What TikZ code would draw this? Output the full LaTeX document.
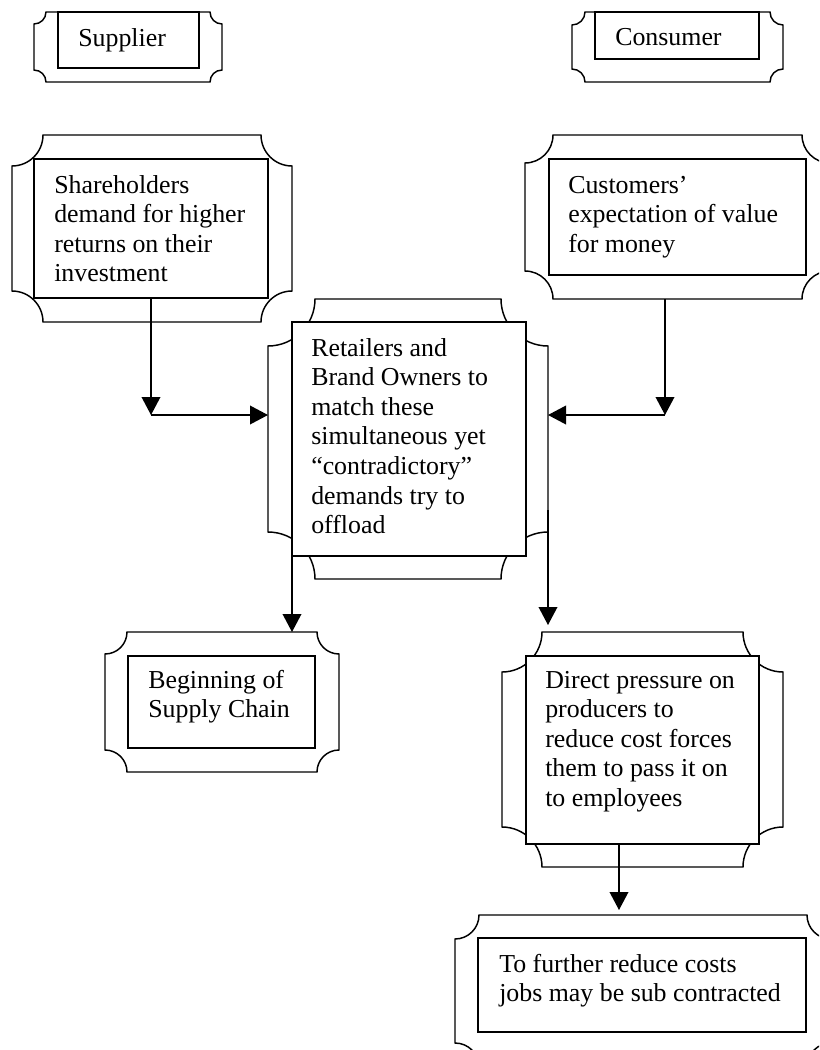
\documentclass[tikz,border=0pt]{standalone}
\usepackage{fontspec}
\setmainfont{Liberation Serif}
\usetikzlibrary{arrows.meta,fit,calc}
\tikzset{
  plq/.style={draw=black, fill=white, line width=1.1pt, line join=miter},
  inbox/.style={draw=black, fill=white, line width=1.1pt, inner sep=0pt, outer sep=0pt},
  txt/.style={font=\fontsize{19.4pt}{22.2pt}\selectfont, align=left, inner sep=0pt, anchor=base west},
  conn/.style={line width=1.1pt, -{Triangle[length=13.5pt,width=14pt]}},
}
% #1 name, #2 x1, #3 y1, #4 x2, #5 y2, #6 corner radius
\newcommand\plaque[6]{%
  \draw[plq] ({#2+#6},#3) -- ({#4-#6},#3)
    arc[start angle=180,end angle=90,radius=#6] -- (#4,{#5-#6})
    arc[start angle=270,end angle=180,radius=#6] -- ({#2+#6},#5)
    arc[start angle=0,end angle=-90,radius=#6] -- (#2,{#3+#6})
    arc[start angle=90,end angle=0,radius=#6] -- cycle;
  \path (#2,#3) coordinate (#1-a) (#4,#5) coordinate (#1-b);
  \node[fit=(#1-a)(#1-b), inner sep=0pt, outer sep=0pt] (#1) {};}
% #1 name, #2 x1, #3 y1, #4 x2, #5 y2
\newcommand\innerbox[5]{%
  \path (#2,#3) coordinate (#1-a) (#4,#5) coordinate (#1-b);
  \node[inbox, fit=(#1-a)(#1-b)] (#1) {};}
\begin{document}
\begin{tikzpicture}[x=0.75pt,y=-0.75pt]
\useasboundingbox (0,0) rectangle (819,1050);
\fill[white] (0,0) rectangle (819,1050);
\clip (0,0) rectangle (819,1050);

\plaque{suO}{34}{12}{222}{82}{12}
\innerbox{su}{58}{12}{199}{68}
\node[txt] (suT) at (78,46) {Supplier};

\plaque{coO}{572}{12}{783}{82}{13}
\innerbox{co}{595}{12}{759}{59}
\node[txt] (coT) at (615,45) {Consumer};

\plaque{shO}{12}{135}{292}{322}{31}
\innerbox{sh}{34}{159}{268}{298}
\node[txt] (shT) at (54,281.8) {Shareholders\\demand for higher\\returns on their\\investment};

\plaque{cuO}{525}{135}{830}{299}{28}
\innerbox{cu}{549}{159}{806}{275}
\node[txt] (cuT) at (568,252.2) {Customers’\\expectation of value\\for money};

\plaque{rtO}{268}{299}{548}{579}{47}
\innerbox{rt}{292}{322}{526}{556}
\node[txt] (rtT) at (311,533.6) {Retailers and\\Brand Owners to\\match these\\simultaneous yet\\“contradictory”\\demands try to\\offload};

\plaque{bgO}{105}{632}{339}{772}{22}
\innerbox{bg}{128}{656}{315}{748}
\node[txt] (bgT) at (148,717.6) {Beginning of\\Supply Chain};

\plaque{dpO}{502}{632}{783}{867}{40}
\innerbox{dp}{526}{656}{759}{844}
\node[txt] (dpT) at (545,806.4) {Direct pressure on\\producers to\\reduce cost forces\\them to pass it on\\to employees};

\plaque{laO}{455}{915}{831}{1067}{24}
\innerbox{la}{478}{938}{806}{1032}
\node[txt] (laT) at (499,1001.6) {To further reduce costs\\jobs may be sub contracted};

\coordinate (j1) at (151,415);
\coordinate (j2) at (665,415);
\coordinate (j3) at (548,510);
\coordinate (j5) at (619,900);

\draw[conn] (sh.south) -- (j1);
\draw[conn] (j1) -- (j1 -| rtO.west);
\draw[conn] (j2 |- cuO.south) -- (j2);
\draw[conn] (j2) -- (j2 -| rtO.east);
\draw[conn] (rt.south west) -- (rt.south west |- bgO.north);
\draw[conn] (j3) -- ($(j3 |- dpO.north)+(0,-7)$);
\draw[conn] (dp.south -| j5) -- ($(j5 |- laO.north)+(0,-5)$);
\end{tikzpicture}
\end{document}
